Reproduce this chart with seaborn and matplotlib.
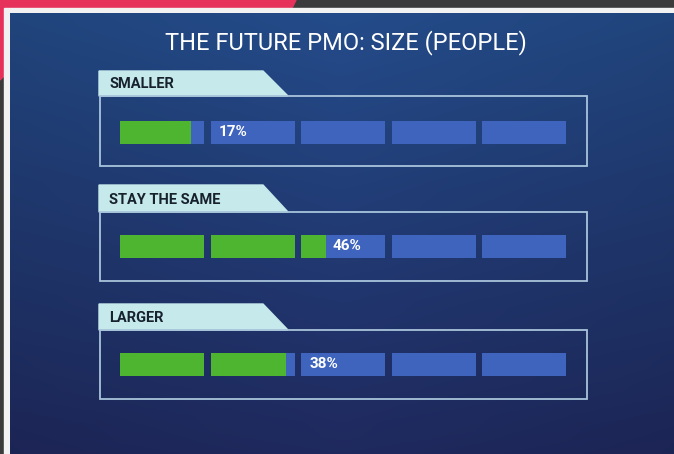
import numpy as np
import matplotlib.pyplot as plt
import seaborn as sns
from matplotlib.patches import Polygon, Rectangle

# chart data
categories = ["SMALLER", "STAY THE SAME", "LARGER"]
values = [17, 46, 38]
title = "THE FUTURE PMO: SIZE (PEOPLE)"
n_segments = 5
seg_step = 100 / n_segments

sns.set_theme(style="white")
plt.rcParams["font.family"] = ["Roboto", "DejaVu Sans"]

W, H = 674, 454
fig = plt.figure(figsize=(W / 100, H / 100), dpi=100)

# background frame in pixel coordinates
bg = fig.add_axes([0, 0, 1, 1])
bg.set_xlim(0, W)
bg.set_ylim(H, 0)
bg.axis("off")
bg.add_patch(Rectangle((0, 0), W, H, color="#3b3b3b", zorder=0))
bg.add_patch(Polygon([(0, 0), (296, 0), (291, 10), (4, 10), (4, 76), (0, 80)],
                     closed=True, color="#e6325a", zorder=1))
bg.add_patch(Rectangle((4, 8), W, H, color="#f2f2f2", zorder=2))

# navy gradient panel
yy, xx = np.mgrid[0:1:200j, 0:1:200j]
top = np.array([36, 76, 138]) / 255
bottom = np.array([31, 41, 94]) / 255
grad = top[None, None, :] * (1 - yy[..., None]) + bottom[None, None, :] * yy[..., None]
edge = 1 - 0.10 * np.abs(xx - 0.5)[..., None] * 2
grad = np.clip(grad * edge, 0, 1)
bg.imshow(grad, extent=(10, W, H, 13), aspect="auto", zorder=3, interpolation="bilinear")
bg.set_xlim(0, W)
bg.set_ylim(H, 0)

bg.text(346, 43, title, color="white", fontsize=17, fontweight="normal",
        ha="center", va="center", zorder=5)

# panels: tab top, box top, box bottom (pixels)
tab_tops = [71, 185, 304]
box_tops = [96, 212, 330]
box_bottoms = [166, 281, 399]
bar_tops = [121, 235, 353]
bar_h = 23

line_col = "#a9c4db"
tab_col = "#c6e9eb"
green = "#4db52f"
blue = "#3f64bd"

for cat, t0, b0, b1 in zip(categories, tab_tops, box_tops, box_bottoms):
    bg.add_patch(Polygon([(99, t0), (263, t0), (288, b0), (99, b0)],
                         closed=True, color=tab_col, zorder=4))
    bg.add_patch(Rectangle((100, b0), 487, b1 - b0, fill=False,
                           edgecolor=line_col, lw=1.3, zorder=4))
    bg.text(109, (t0 + b0) / 2 + 1, cat, color="#17222e", fontsize=10.5,
            fontweight="bold", ha="left", va="center", zorder=5)

# segmented bars, 0-100 % mapped onto the track
px_per_unit = 452.5 / 100
seg_w = 84 / px_per_unit
for val, bt in zip(values, bar_tops):
    ax = fig.add_axes([120 / W, 1 - (bt + bar_h) / H, 452.5 / W, bar_h / H])
    ax.set_xlim(0, 100)
    ax.set_ylim(-0.5, 0.5)
    ax.axis("off")
    lefts = np.arange(n_segments) * seg_step
    ax.barh(np.zeros(n_segments), seg_w, left=lefts, height=1, color=blue, linewidth=0)
    fills = np.clip((val - lefts) / seg_step, 0, 1) * seg_w
    ax.barh(np.zeros(n_segments), fills, left=lefts, height=1, color=green, linewidth=0)

    k = min(int(val // seg_step), n_segments - 1)
    frac = (val - k * seg_step) / seg_step
    if frac > 0.6:
        lx = (k + 1) * seg_step + 1.8
    else:
        lx = k * seg_step + fills[k] + 1.3
    ax.text(lx, 0, f"{val}%", color="white", fontsize=11, fontweight="bold",
            ha="left", va="center")

fig.savefig("out.png", dpi=100)
